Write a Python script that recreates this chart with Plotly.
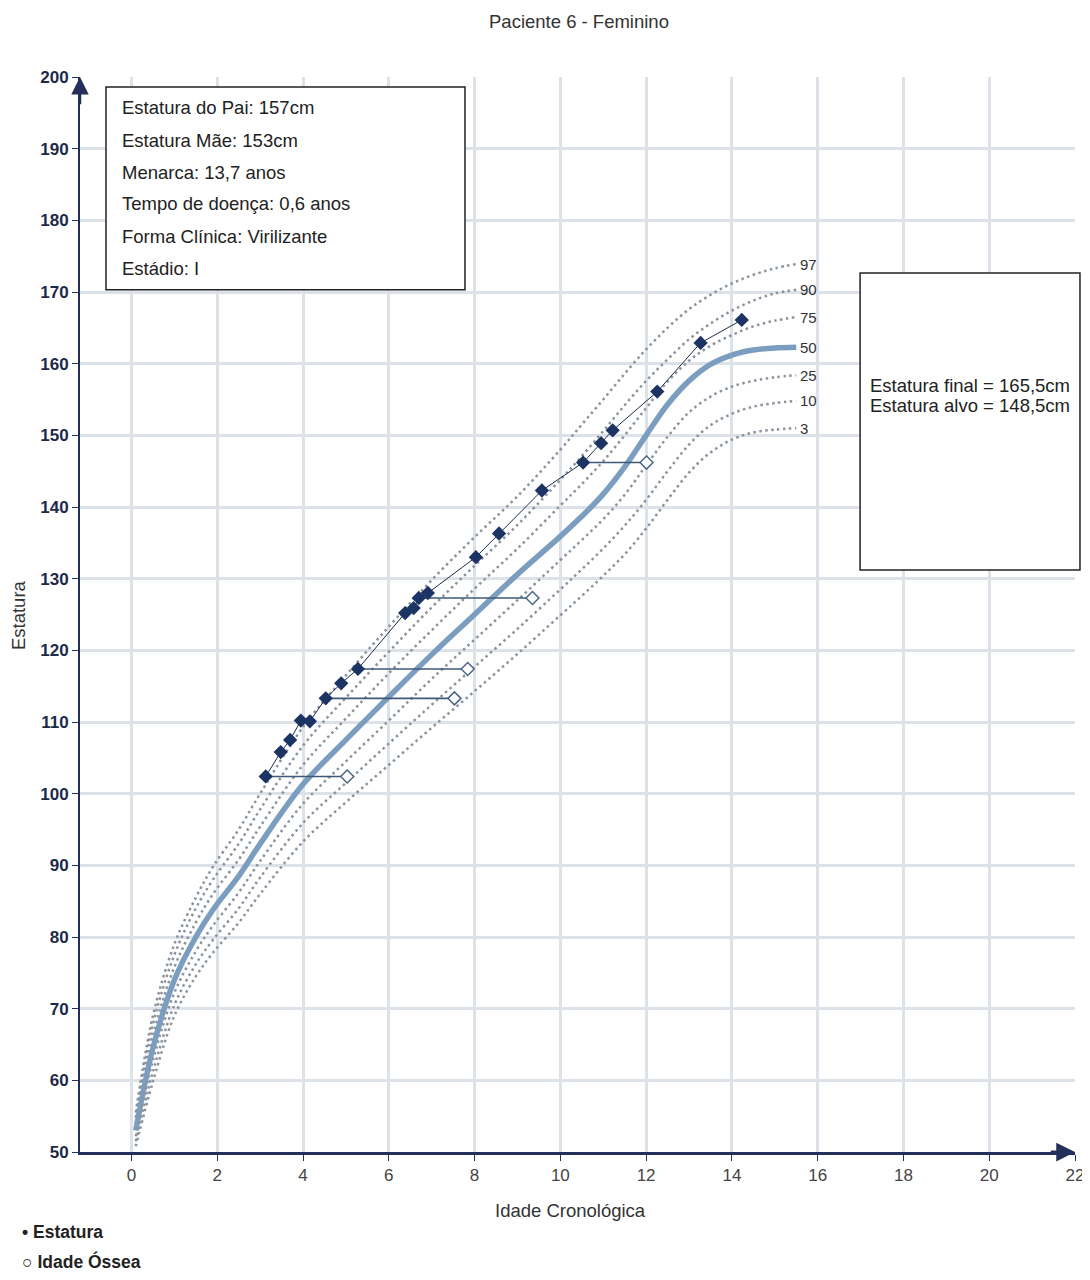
import plotly.graph_objects as go

# ---------------- data ----------------
ref_age = [0.1, 0.5, 1, 1.5, 1.9, 2.5, 3, 4, 5, 6, 7, 8, 9, 10, 10.5, 11, 11.5, 12, 12.5, 13, 13.5, 14, 14.5, 15, 15.5]
p97 = [55.5, 69.0, 79.0, 85.5, 89.8, 95.0, 100.0, 109.3, 116.5, 123.3, 129.8, 135.8, 141.5, 148.0, 151.5, 155.0, 158.6, 162.0, 165.0, 167.6, 169.6, 171.2, 172.4, 173.3, 173.9]
p90 = [54.8, 67.8, 77.5, 84.0, 88.0, 93.0, 97.8, 106.7, 113.4, 119.8, 126.0, 131.8, 137.5, 143.8, 147.1, 150.6, 154.2, 157.6, 160.6, 163.4, 165.6, 167.4, 168.8, 169.8, 170.3]
p75 = [54.0, 66.2, 75.8, 82.0, 86.0, 90.8, 95.4, 104.0, 110.5, 116.8, 122.8, 128.6, 134.2, 140.2, 143.2, 146.4, 150.0, 153.8, 157.5, 160.4, 162.5, 164.0, 165.2, 166.0, 166.5]
p50 = [53.0, 64.5, 74.0, 80.0, 83.8, 88.5, 93.0, 101.3, 107.5, 113.5, 119.4, 125.0, 130.6, 135.9, 138.7, 141.8, 145.6, 150.0, 154.3, 157.6, 159.9, 161.2, 161.9, 162.2, 162.3]
p25 = [52.2, 62.8, 72.2, 78.0, 81.6, 86.2, 90.6, 98.6, 104.5, 110.2, 116.0, 121.5, 127.0, 132.6, 135.4, 138.3, 141.7, 145.8, 149.8, 153.2, 155.4, 156.8, 157.6, 158.1, 158.4]
p10 = [51.5, 61.2, 70.5, 76.2, 79.6, 84.0, 88.3, 95.9, 101.5, 107.0, 112.4, 117.7, 123.0, 128.5, 131.3, 134.2, 137.4, 141.0, 145.0, 148.7, 151.4, 153.0, 154.0, 154.5, 154.8]
p3 = [50.8, 59.8, 69.0, 74.5, 77.8, 82.0, 86.0, 93.3, 98.8, 104.0, 109.2, 114.3, 119.5, 124.9, 127.6, 130.4, 133.4, 137.0, 141.0, 144.8, 147.6, 149.4, 150.4, 150.8, 151.0]
pct_labels = ["97", "90", "75", "50", "25", "10", "3"]

pat_age = [3.13, 3.48, 3.70, 3.95, 4.16, 4.53, 4.89, 5.28, 6.38, 6.58, 6.70, 6.91,
           8.03, 8.57, 9.57, 10.53, 10.95, 11.22, 12.26, 13.27, 14.23]
pat_height = [102.4, 105.8, 107.5, 110.2, 110.1, 113.3, 115.4, 117.4, 125.2, 125.9, 127.3, 128.0,
              133.0, 136.3, 142.3, 146.2, 148.9, 150.7, 156.1, 162.9, 166.1]

# bone age readings: (chronological age, height, bone age)
ba_chrono = [3.13, 4.53, 5.28, 6.70, 10.53]
ba_height = [102.4, 113.3, 117.4, 127.3, 146.2]
ba_age = [5.03, 7.53, 7.84, 9.35, 12.01]

info_lines = ["Estatura do Pai: 157cm", "Estatura Mãe: 153cm", "Menarca: 13,7 anos",
              "Tempo de doença: 0,6 anos", "Forma Clínica: Virilizante", "Estádio: I"]
result_lines = ["Estatura final = 165,5cm", "Estatura alvo = 148,5cm"]

x_ticks = list(range(0, 23, 2))
y_ticks = list(range(50, 201, 10))

# ---------------- styles ----------------
NAVY = "#1b3463"
AXIS = "#22305a"
DOT = "#8a939e"
THICK = "#7b9ec0"
SANS = "Liberation Sans, Arial, sans-serif"
FS = 18.5

fig = go.Figure()

curves = [p97, p90, p75, p50, p25, p10, p3]
for lab, vals in zip(pct_labels, curves):
    if lab == "50":
        fig.add_trace(go.Scatter(x=ref_age, y=vals, mode="lines",
                                 line=dict(color=THICK, width=5.5, shape="spline", smoothing=1.0),
                                 hoverinfo="skip", showlegend=False))
    else:
        fig.add_trace(go.Scatter(x=ref_age, y=vals, mode="lines",
                                 line=dict(color=DOT, width=2.5, dash="2.5px,3.5px", shape="spline", smoothing=1.0),
                                 hoverinfo="skip", showlegend=False))
    fig.add_annotation(x=ref_age[-1], y=vals[-1], text=lab, showarrow=False,
                       xanchor="left", yanchor="middle", xshift=2,
                       font=dict(family=SANS, size=15, color="#333333"))

# bone age lines
for c, h, b in zip(ba_chrono, ba_height, ba_age):
    fig.add_trace(go.Scatter(x=[c, b], y=[h, h], mode="lines",
                             line=dict(color="#3e5a7a", width=1.6),
                             hoverinfo="skip", showlegend=False))
fig.add_trace(go.Scatter(x=ba_age, y=ba_height, mode="markers",
                         marker=dict(symbol="diamond", size=10, color="white",
                                     line=dict(color="#4a6686", width=1.5)),
                         showlegend=False))

# patient stature
fig.add_trace(go.Scatter(x=pat_age, y=pat_height, mode="lines+markers",
                         line=dict(color="#1e2d4d", width=1),
                         marker=dict(symbol="diamond", size=11, color=NAVY),
                         showlegend=False))

# info box (top-left)
fig.add_shape(type="rect", xref="x", yref="y", x0=-0.594, x1=7.777, y0=170.3, y1=198.6,
              line=dict(color="#222222", width=1.5), fillcolor="white", layer="above")
info_y = [195.8, 191.2, 186.7, 182.3, 177.8, 173.3]
for t, yy in zip(info_lines, info_y):
    fig.add_annotation(x=-0.267, y=yy, text=t, showarrow=False, xanchor="left", yanchor="middle",
                       font=dict(family=SANS, size=FS, color="#222222"))

# results box (right)
fig.add_shape(type="rect", xref="paper", yref="paper", x0=0.784, x1=1.005, y0=0.5414, y1=0.8177,
              line=dict(color="#222222", width=1.5), fillcolor="white", layer="above")
fig.add_annotation(xref="paper", yref="paper", x=0.792, y=0.7133, text=result_lines[0],
                   showarrow=False, xanchor="left", yanchor="middle",
                   font=dict(family=SANS, size=FS, color="#222222"))
fig.add_annotation(xref="paper", yref="paper", x=0.792, y=0.6947, text=result_lines[1],
                   showarrow=False, xanchor="left", yanchor="middle",
                   font=dict(family=SANS, size=FS, color="#222222"))

# axis arrowheads
fig.add_annotation(x=22.0, y=50, ax=21.4, ay=50, xref="x", yref="y", axref="x", ayref="y",
                   showarrow=True, arrowhead=2, arrowsize=1.25, arrowwidth=3, arrowcolor=AXIS, text="")
fig.add_annotation(x=-1.2, y=200, ax=-1.2, ay=196, xref="x", yref="y", axref="x", ayref="y",
                   showarrow=True, arrowhead=2, arrowsize=1.4, arrowwidth=2.5, arrowcolor=AXIS, text="")

# title and axis titles
fig.add_annotation(xref="paper", yref="paper", x=0.5015, y=1.0512, text="Paciente 6 - Feminino",
                   showarrow=False, xanchor="center", yanchor="middle",
                   font=dict(family=SANS, size=FS, color="#333333"))
fig.add_annotation(xref="paper", yref="paper", x=0.4925, y=-0.054, text="Idade Cronológica",
                   showarrow=False, xanchor="center", yanchor="middle",
                   font=dict(family=SANS, size=FS, color="#333333"))
fig.add_annotation(xref="paper", yref="paper", x=-0.0623, y=0.4995, text="Estatura", textangle=-90,
                   showarrow=False, xanchor="center", yanchor="middle",
                   font=dict(family=SANS, size=FS, color="#333333"))

# legend (bottom-left)
fig.add_annotation(xref="paper", yref="paper", x=-0.0603, y=-0.0744, text="<b>• Estatura</b>",
                   showarrow=False, xanchor="left", yanchor="middle",
                   font=dict(family=SANS, size=17.5, color="#222222"))
fig.add_annotation(xref="paper", yref="paper", x=-0.0603, y=-0.1023, text="<b>○ Idade Óssea</b>",
                   showarrow=False, xanchor="left", yanchor="middle",
                   font=dict(family=SANS, size=17.5, color="#222222"))

# page body has an 8px margin: figure is 8px smaller and margins shifted accordingly
fig.update_layout(
    width=1082, height=1272,
    margin=dict(l=72, r=15, t=69, b=128, autoexpand=False),
    paper_bgcolor="white", plot_bgcolor="white",
    showlegend=False,
    xaxis=dict(range=[-1.2, 22.0], tickvals=x_ticks, ticktext=[str(v) for v in x_ticks],
               automargin=False,
               showgrid=True, gridcolor="#dde1e8", gridwidth=2.5, zeroline=False,
               showline=True, linecolor=AXIS, linewidth=3,
               ticks="outside", ticklen=6, tickcolor=AXIS,
               tickfont=dict(family=SANS, size=17, color="#444444")),
    yaxis=dict(range=[50, 200], tickvals=y_ticks, ticktext=[f"<b>{v}</b>" for v in y_ticks],
               automargin=False,
               showgrid=True, gridcolor="#dde1e8", gridwidth=2.5, zeroline=False,
               showline=True, linecolor=AXIS, linewidth=2,
               ticks="outside", ticklen=6, tickcolor=AXIS,
               tickfont=dict(family=SANS, size=17, color="#1c2a4a")),
)

fig.write_html("out.html")
